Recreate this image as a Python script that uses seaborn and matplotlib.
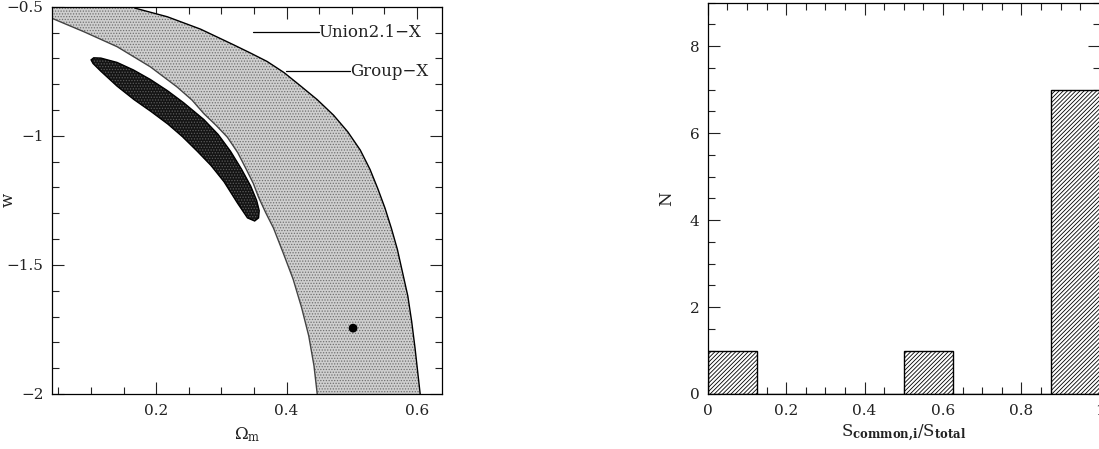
import numpy as np
import pandas as pd
import matplotlib
matplotlib.use("Agg")
import matplotlib.pyplot as plt
import matplotlib.ticker as mticker
import seaborn as sns

# ---- left panel: confidence regions in (Omega_m, w) ----
band_outer_om = [0.160, 0.168, 0.217, 0.268, 0.319, 0.345, 0.370, 0.396, 0.421, 0.447,
                 0.472, 0.494, 0.513, 0.528, 0.540, 0.551, 0.561, 0.570, 0.578, 0.586,
                 0.592, 0.597, 0.601, 0.605, 0.606]
band_outer_w = [-0.490, -0.506, -0.539, -0.587, -0.648, -0.680, -0.712, -0.755, -0.806, -0.860,
                -0.920, -0.985, -1.055, -1.130, -1.205, -1.280, -1.360, -1.440, -1.530, -1.620,
                -1.720, -1.820, -1.910, -2.000, -2.020]
band_inner_om = [0.030, 0.040, 0.089, 0.140, 0.191, 0.232, 0.255, 0.273, 0.292, 0.309,
                 0.325, 0.339, 0.349, 0.357, 0.368, 0.380, 0.395, 0.410, 0.423, 0.434,
                 0.442, 0.447, 0.449]
band_inner_w = [-0.535, -0.545, -0.597, -0.655, -0.733, -0.811, -0.862, -0.914, -0.960, -1.005,
                -1.065, -1.134, -1.185, -1.238, -1.298, -1.358, -1.455, -1.555, -1.665, -1.775,
                -1.890, -2.000, -2.020]

group_om = [0.100, 0.104, 0.115, 0.140, 0.165, 0.191, 0.217, 0.242, 0.273, 0.295,
            0.314, 0.331, 0.345, 0.354, 0.358, 0.357, 0.351, 0.340, 0.325, 0.304,
            0.284, 0.263, 0.240, 0.218, 0.192, 0.166, 0.140, 0.115, 0.103]
group_w = [-0.706, -0.698, -0.699, -0.716, -0.745, -0.782, -0.825, -0.872, -0.937, -0.995,
           -1.060, -1.130, -1.195, -1.250, -1.290, -1.318, -1.330, -1.318, -1.262, -1.178,
           -1.115, -1.060, -1.003, -0.955, -0.906, -0.860, -0.808, -0.750, -0.720]

best_om = [0.502]
best_w = [-1.745]

labels = ["Union2.1\u2212X", "Group\u2212X"]

# ---- right panel: histogram of S_common,i / S_total ----
bin_edges = [0.0, 0.125, 0.25, 0.375, 0.5, 0.625, 0.75, 0.875, 1.0]
bin_centers = [0.0625, 0.5625, 0.9375]
bin_counts = [1, 1, 7]

sns.set_style("ticks")
plt.rcParams["font.family"] = ["DejaVu Serif"]
plt.rcParams["mathtext.fontset"] = "dejavuserif"
plt.rcParams["hatch.linewidth"] = 0.6

fig = plt.figure(figsize=(10.99, 4.49), dpi=100)
ax1 = fig.add_axes([0.0473, 0.1225, 0.3546, 0.8626])
ax2 = fig.add_axes([0.6440, 0.1225, 0.3567, 0.8715])


def minus_fmt(v, _):
    return f"{v:g}".replace("-", "\u2212")


def style_axes(ax, xmaj, xmin, ymaj, ymin):
    ax.xaxis.set_major_locator(mticker.MultipleLocator(xmaj))
    ax.xaxis.set_minor_locator(mticker.MultipleLocator(xmin))
    ax.yaxis.set_major_locator(mticker.MultipleLocator(ymaj))
    ax.yaxis.set_minor_locator(mticker.MultipleLocator(ymin))
    ax.xaxis.set_major_formatter(mticker.FuncFormatter(minus_fmt))
    ax.yaxis.set_major_formatter(mticker.FuncFormatter(minus_fmt))
    ax.tick_params(which="both", direction="in", top=True, right=True,
                   width=0.8, color="#222222", labelcolor="#222222", labelsize=11)
    ax.tick_params(which="major", length=8.5)
    ax.tick_params(which="minor", length=5)
    ax.tick_params(axis="x", pad=7)
    ax.tick_params(axis="y", pad=6)
    for sp in ax.spines.values():
        sp.set_visible(True)
        sp.set_linewidth(0.9)
        sp.set_color("black")


# left panel
band_x = band_outer_om + band_inner_om[::-1] + [0.030]
band_y = band_outer_w + band_inner_w[::-1] + [-0.490]
ax1.fill(band_x, band_y, facecolor="#cfcfcf", edgecolor="#707070", hatch="......", linewidth=0)
ax1.plot(band_outer_om, band_outer_w, color="black", lw=1.0)
ax1.plot(band_inner_om, band_inner_w, color="#444444", lw=1.0)

ax1.fill(group_om, group_w, facecolor="#141414", edgecolor="#5a5a5a", hatch="......", linewidth=0)
ax1.fill(group_om, group_w, facecolor="none", edgecolor="black", linewidth=1.0)

sns.scatterplot(x=best_om, y=best_w, ax=ax1, color="black", s=40, edgecolor="none", zorder=5)

ax1.plot([0.348, 0.449], [-0.599, -0.599], color="black", lw=0.9)
ax1.text(0.449, -0.599, labels[0], fontsize=12, va="center", ha="left", color="#222222")
ax1.plot([0.399, 0.498], [-0.750, -0.750], color="black", lw=0.9)
ax1.text(0.498, -0.750, labels[1], fontsize=12, va="center", ha="left", color="#222222")

ax1.set_xlim(0.04, 0.638)
ax1.set_ylim(-2.0, -0.5)
style_axes(ax1, 0.2, 0.05, 0.5, 0.1)
ax1.set_xlabel(r"$\Omega_{\rm m}$", fontsize=12, color="#222222")
ax1.set_ylabel("w", fontsize=12, color="#222222")
ax1.xaxis.set_label_coords(0.5, -0.082)
ax1.yaxis.set_label_coords(-0.090, 0.5)

# right panel
hist_df = pd.DataFrame({"frac": bin_centers, "n": bin_counts})
sns.histplot(data=hist_df, x="frac", weights="n", bins=bin_edges, ax=ax2,
             color="white", edgecolor="black", linewidth=1.0, alpha=1, hatch="////////")
ax2.set_xlim(0.0, 1.0)
ax2.set_ylim(0, 9)
style_axes(ax2, 0.2, 0.05, 2, 0.5)
ax2.set_xlabel(r"$\mathrm{S}_{\mathbf{common{,}i}}/\mathrm{S}_{\mathbf{total}}$", fontsize=12,
               color="#222222")
ax2.set_ylabel("N", fontsize=12, color="#222222")
ax2.xaxis.set_label_coords(0.5, -0.075)
ax2.yaxis.set_label_coords(-0.083, 0.5)

fig.savefig("out.png", dpi=100)
